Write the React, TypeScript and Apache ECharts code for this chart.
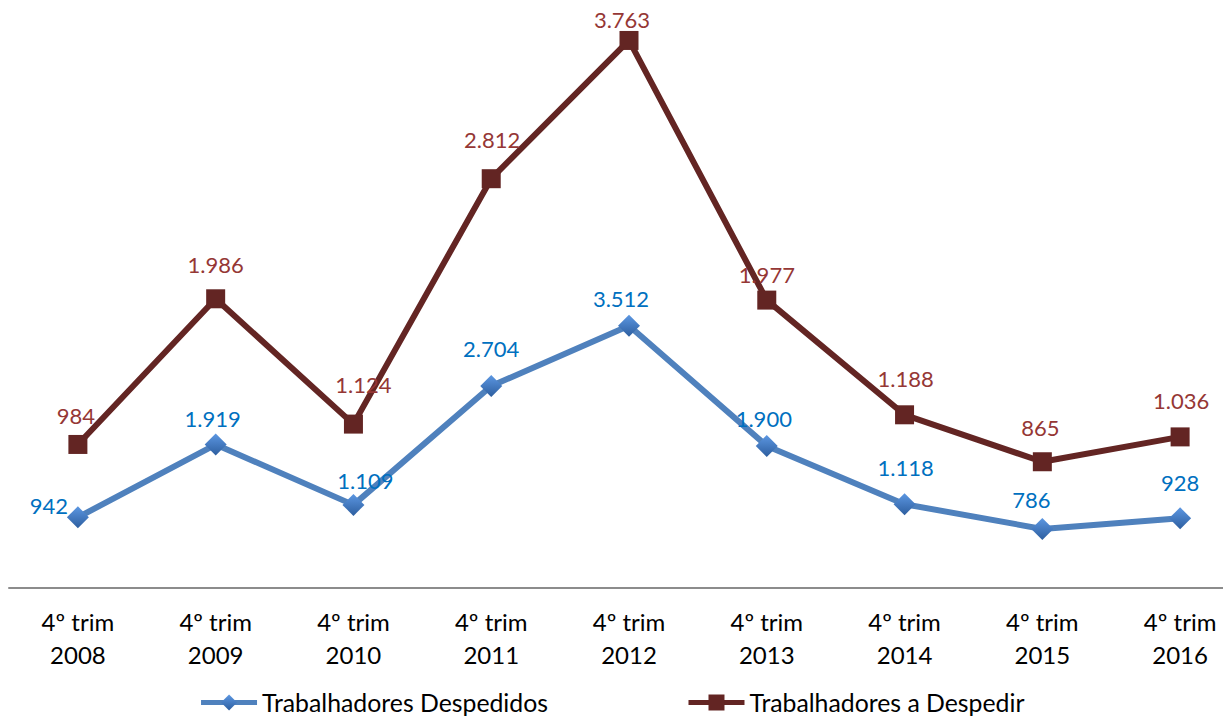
import React, { useEffect, useRef } from "react";
import * as echarts from "echarts";

const categories = [
  "4º trim\n2008",
  "4º trim\n2009",
  "4º trim\n2010",
  "4º trim\n2011",
  "4º trim\n2012",
  "4º trim\n2013",
  "4º trim\n2014",
  "4º trim\n2015",
  "4º trim\n2016",
];
const despedidos = [942, 1919, 1109, 2704, 3512, 1900, 1118, 786, 928];
const aDespedir = [984, 1986, 1124, 2812, 3763, 1977, 1188, 865, 1036];
const seriesNames = ["Trabalhadores Despedidos", "Trabalhadores a Despedir"];

// label placement (centre offset from marker), layout only
const blueLabelShift: [number, number][] = [
  [-29, -12], [-3, -26], [12, -24], [0, -38], [-8, -27], [-3, -27], [1, -37], [-11, -29], [0, -36],
];
const redLabelShift: [number, number][] = [
  [-2, -29], [0, -34], [10, -40], [1, -39], [-7, -21], [0, -26], [1, -36], [-2, -34], [1, -36],
];

const fmt = (v: number) => String(v).replace(/\B(?=(\d{3})+(?!\d))/g, ".");

export default function App() {
  const ref = useRef<HTMLDivElement>(null);
  useEffect(() => {
    if (!ref.current) return;
    const chart = echarts.init(ref.current, undefined, { renderer: "svg" });
    const blueMarker = new echarts.graphic.LinearGradient(0, 0, 0, 1, [
      { offset: 0, color: "#5C97E2" },
      { offset: 1, color: "#2D5E9F" },
    ]);
    chart.setOption({
      animation: false,
      textStyle: { fontFamily: "Lato" },
      grid: {
        left: 9,
        right: -26,
        top: 6,
        bottom: 133.5,
        containLabel: false,
        outerBoundsMode: "none",
      },
      legend: {
        left: "center",
        top: 690,
        padding: 0,
        itemWidth: 56,
        itemHeight: 20,
        itemGap: 138,
        textStyle: { fontSize: 24.8, color: "#000", fontFamily: "Lato" },
        lineStyle: { width: 5 },
        data: seriesNames,
      },
      xAxis: {
        type: "category",
        data: categories,
        boundaryGap: true,
        axisTick: { show: false },
        axisLine: { lineStyle: { color: "#8C8C8C", width: 2 } },
        axisLabel: {
          color: "#000",
          fontSize: 24,
          lineHeight: 33,
          margin: 17,
          interval: 0,
          fontFamily: "Lato",
        },
      },
      yAxis: [
        { type: "value", min: 0, max: 7805, show: false, splitLine: { show: false } },
        { type: "value", min: 0, max: 4000, show: false, splitLine: { show: false } },
      ],
      series: [
        {
          name: seriesNames[0],
          type: "line",
          yAxisIndex: 0,
          symbol: "diamond",
          symbolSize: 22,
          lineStyle: { color: "#4F81BD", width: 6 },
          itemStyle: { color: blueMarker },
          label: {
            show: true,
            position: "inside",
            color: "#0070C0",
            fontSize: 22,
            fontFamily: "Lato",
            formatter: (p: any) => fmt(p.value),
          },
          data: despedidos.map((v, i) => ({ value: v, label: { offset: blueLabelShift[i] } })),
        },
        {
          name: seriesNames[1],
          type: "line",
          yAxisIndex: 1,
          symbol: "rect",
          symbolSize: 19,
          lineStyle: { color: "#632523", width: 6 },
          itemStyle: { color: "#632523" },
          label: {
            show: true,
            position: "inside",
            color: "#953735",
            fontSize: 22,
            fontFamily: "Lato",
            formatter: (p: any) => fmt(p.value),
          },
          data: aDespedir.map((v, i) => ({ value: v, label: { offset: redLabelShift[i] } })),
        },
      ],
    });
    return () => chart.dispose();
  }, []);
  return (
    <div
      ref={ref}
      style={{ position: "absolute", left: 0, top: 0, width: 1223, height: 721 }}
    />
  );
}
